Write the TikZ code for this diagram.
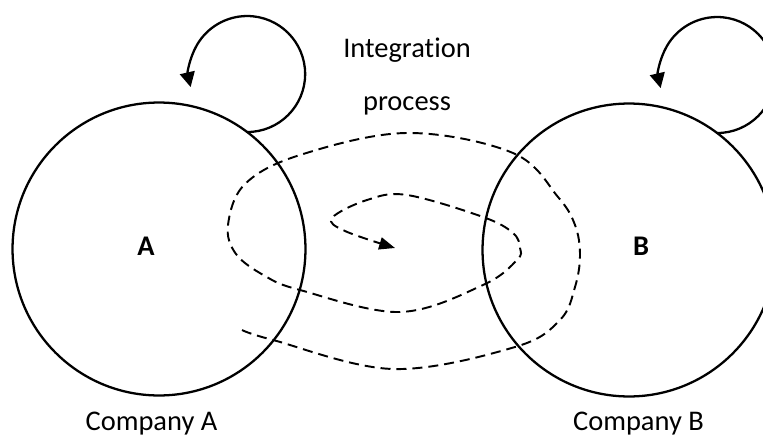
\documentclass[tikz,border=0pt]{standalone}
\usepackage{fontspec}
\setmainfont{Carlito}[Ligatures=NoCommon]
\usetikzlibrary{arrows.meta}
\begin{document}
\begin{tikzpicture}[x=0.02cm,y=0.02cm,
  company/.style={circle,draw,line width=1.3pt,minimum size=5.86cm,inner sep=0pt,outer sep=0pt},
  lbl/.style={font=\fontsize{16.2}{19}\selectfont,inner sep=0pt,anchor=base},
  selfloop/.style={line width=1.3pt,-{Triangle[length=8.5pt,width=8.5pt]}},
  spiral/.style={line width=1.1pt,dash pattern=on 5.7pt off 3.4pt,-{Triangle[length=9pt,width=7pt]}}]
\useasboundingbox (0,0) rectangle (763,437);
\node[company] (cA) at (159,188) {};
\node[company] (cB) at (629,187) {};
\node[lbl,font=\fontsize{16.2}{19}\selectfont\bfseries] (tA) at (146,182) {A};
\node[lbl,font=\fontsize{16.2}{19}\selectfont\bfseries] (tB) at (641,182) {B};
\node[lbl] (nA) at (151.5,7) {Company A};
\node[lbl] (nB) at (638.5,7) {Company B};
\node[lbl] (t1) at (407,379) {Integration};
\node[lbl] (t2) at (407,327) {process};
\draw[selfloop] (cA.53) arc[start angle=-90,end angle=193,radius=58];
\draw[selfloop] (cB.53) arc[start angle=-90,end angle=193,radius=58];
\draw[spiral] plot[smooth,tension=0.6] coordinates {
 (242,107) (273,97) (393,68) (515,90) (560,117) (575,150) (580,182) (575,212)
 (558,240) (513,284) (407,304) (300,282) (245,253) (228,212)
 (236,183) (265,161) (300,147) (400,125) (483,152) (517,177) (520,189)
 (513,204) (483,220) (407,242) (367,237) (332,219) (345,206) (395,189)};
\end{tikzpicture}
\end{document}
